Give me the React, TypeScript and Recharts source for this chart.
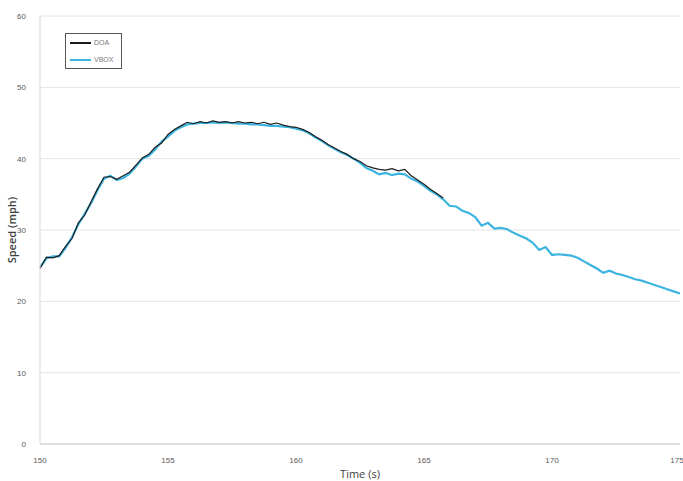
import { CartesianGrid, Legend, Line, LineChart, XAxis, YAxis } from 'recharts'

// samples every 0.25 s starting at 150 s
const START_TIME = 150
const STEP = 0.25

const vboxSpeed = [
  24.8, 26.0, 26.3, 26.3, 27.5, 29.0, 30.8, 32.3, 33.8, 35.6,
  37.2, 37.6, 37.0, 37.3, 37.9, 38.9, 40.0, 40.4, 41.3, 42.4,
  43.1, 43.9, 44.4, 44.8, 44.9, 45.0, 45.0, 45.1, 45.0, 45.1,
  45.0, 44.9, 44.9, 44.8, 44.8, 44.7, 44.6, 44.6, 44.5, 44.4,
  44.2, 44.0, 43.6, 43.0, 42.5, 41.9, 41.4, 40.9, 40.5, 40.0,
  39.4, 38.7, 38.3, 37.8, 38.0, 37.7, 37.9, 37.8, 37.2, 36.8,
  36.2, 35.5, 35.0, 34.3, 33.4, 33.3, 32.7, 32.4, 31.8, 30.6,
  31.0, 30.2, 30.3, 30.1, 29.6, 29.2, 28.8, 28.2, 27.2, 27.6,
  26.5, 26.6, 26.5, 26.4, 26.1, 25.6, 25.1, 24.6, 24.0, 24.3,
  23.9, 23.7, 23.4, 23.1, 22.9, 22.6, 22.3, 22.0, 21.7, 21.4,
  21.1,
]

const doaSpeed = [
  24.6, 26.2, 26.1, 26.4, 27.7, 28.8, 31.0, 32.1, 34.0, 35.8,
  37.4, 37.5, 37.1, 37.6, 38.1, 39.1, 40.1, 40.6, 41.6, 42.2,
  43.4, 44.1, 44.6, 45.1, 44.9, 45.2, 45.0, 45.3, 45.1, 45.2,
  45.0, 45.2, 45.0, 45.1, 44.9, 45.1, 44.8, 45.0, 44.7, 44.5,
  44.4, 44.1, 43.7, 43.1, 42.6, 42.0, 41.5, 41.0, 40.6, 40.0,
  39.6, 39.0, 38.7, 38.5, 38.4, 38.6, 38.3, 38.5, 37.6, 37.0,
  36.4, 35.7, 35.1, 34.5,
]

const timeTicks = [150, 155, 160, 165, 170, 175]
const speedTicks = [0, 10, 20, 30, 40, 50, 60]

const rows = vboxSpeed.map((vbox, i) => ({
  t: START_TIME + i * STEP,
  vbox,
  doa: doaSpeed[i],
}))

const tickStyle = { fontSize: 8, fill: '#595959', fontFamily: 'Liberation Sans' }

function LegendBox({ payload }: any) {
  const items = [...(payload ?? [])].sort((a: any) => (a.value === 'DOA' ? -1 : 1))
  return (
    <div
      style={{
        border: '1px solid #555',
        background: '#fff',
        padding: '0px 8px 0px 4px',
        fontFamily: 'Liberation Sans',
        fontSize: 7,
        color: '#777',
        lineHeight: '17px',
      }}
    >
      {items.map((p: any) => (
        <div key={p.value} style={{ display: 'flex', alignItems: 'center' }}>
          <span
            style={{
              display: 'inline-block',
              width: 21,
              height: 2,
              background: p.color,
              marginRight: 3,
            }}
          />
          {p.value}
        </div>
      ))}
    </div>
  )
}

export default function App() {
  return (
    <div style={{ position: 'absolute', left: 0, top: 0, background: '#fff' }}>
      <LineChart
        width={683}
        height={481}
        data={rows}
        margin={{ top: 16, right: 3, bottom: 0, left: 0 }}
      >
        <CartesianGrid vertical={false} stroke="#e4e4e4" />
        <XAxis
          type="number"
          dataKey="t"
          domain={[150, 175]}
          ticks={timeTicks}
          tickLine={false}
          axisLine={{ stroke: '#cfcfcf' }}
          tick={tickStyle}
          tickMargin={7}
          height={37}
          label={{
            value: 'Time (s)',
            position: 'insideBottom',
            offset: 3,
            style: { fontSize: 11, fill: '#404040', fontFamily: 'Open Sans' },
          }}
        />
        <YAxis
          type="number"
          domain={[0, 60]}
          ticks={speedTicks}
          tickLine={false}
          axisLine={{ stroke: '#dadada' }}
          tick={tickStyle}
          tickMargin={8}
          width={40}
          label={{
            value: 'Speed (mph)',
            angle: -90,
            position: 'insideLeft',
            offset: 12,
            style: {
              fontSize: 11,
              fill: '#404040',
              fontWeight: 600,
              fontFamily: 'Open Sans',
              textAnchor: 'middle',
            },
          }}
        />
        <Legend
          layout="horizontal"
          verticalAlign="middle"
          align="center"
          wrapperStyle={{ left: 65, top: 33, width: 'auto' }}
          content={<LegendBox />}
        />
        <Line
          type="linear"
          dataKey="vbox"
          name="VBOX"
          stroke="#3cb4e0"
          strokeWidth={2.2}
          dot={false}
          isAnimationActive={false}
        />
        <Line
          type="linear"
          dataKey="doa"
          name="DOA"
          stroke="#1c1c1c"
          strokeWidth={1.2}
          dot={false}
          isAnimationActive={false}
        />
      </LineChart>
    </div>
  )
}
